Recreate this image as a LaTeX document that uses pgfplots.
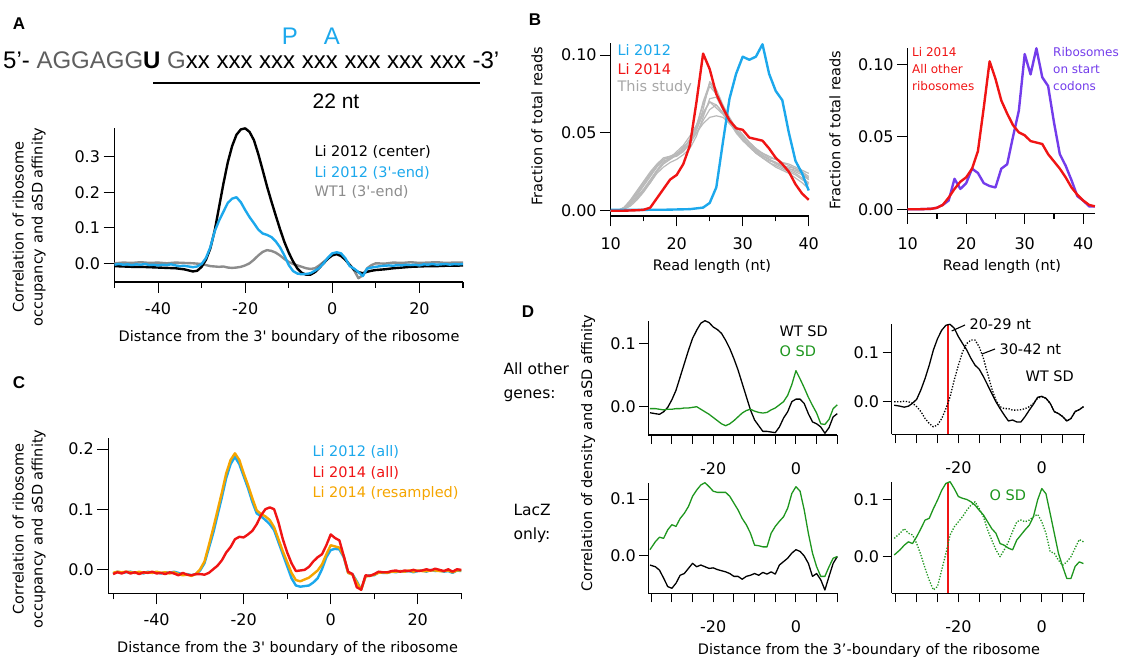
\documentclass[border=0pt]{standalone}
\usepackage{fontspec}
\setmainfont{DejaVu Sans}
\newfontfamily\dv{DejaVu Sans}
\newfontfamily\hel{Liberation Sans}
\usepackage{pgfplots}
\pgfplotsset{compat=1.18}

\definecolor{cblue}{RGB}{28,168,236}
\definecolor{cred}{RGB}{240,20,20}
\definecolor{corange}{RGB}{245,165,0}
\definecolor{cgray}{RGB}{140,140,140}
\definecolor{lgray}{RGB}{185,185,185}
\definecolor{cpurple}{RGB}{115,60,235}
\definecolor{cgreen}{RGB}{30,150,30}
\definecolor{seqgray}{RGB}{95,95,95}

\newcommand\tf{\dv\fontsize{14.5}{19}\selectfont}

\pgfplotsset{
  pan/.style={
    scale only axis, anchor=south west, clip=false,
    axis x line*=bottom, axis y line*=left,
    axis line style={line width=1.1pt},
    tick align=outside,
    every tick/.style={black, line width=1.1pt},
    major tick length=11pt, minor tick length=6pt,
    tick label style={font=\dv\fontsize{16}{16}\selectfont},
    xticklabel style={yshift=-6pt},
    every axis plot/.append style={line join=round},
  },
  dpan/.style={pan, major tick length=9pt, minor tick length=9pt,
    xticklabel style={yshift=-9pt},
    xmin=-35.7, xmax=10, width=189pt,
    xtick={-20,0}, xticklabels={-20,0},
    minor xtick={-35,-30,-25,-15,-10,-5,5,10},
    ytick={0,0.1}, yticklabels={0.0,0.1},
    every axis plot/.append style={line width=1.3pt}},
}

\begin{document}
\begin{tikzpicture}
\useasboundingbox (0,0) rectangle (1122pt,659pt);

% ---------------- panel A header
\node[font=\hel\bfseries\fontsize{17}{17}\selectfont] at (19pt,659pt-24pt) {A};
\node[anchor=base west, inner sep=0, font=\hel\fontsize{24}{24}\selectfont] at (3pt,659pt-69pt)
  {5’- \textcolor{seqgray}{AGGAGG}\textbf{U} \textcolor{seqgray}{G}xx xxx xxx xxx xxx xxx xxx -3’};
\node[anchor=base, inner sep=0, text=cblue, font=\hel\fontsize{24}{24}\selectfont] at (290pt,659pt-45pt) {P};
\node[anchor=base, inner sep=0, text=cblue, font=\hel\fontsize{24}{24}\selectfont] at (332pt,659pt-45pt) {A};
\draw[line width=1.5pt] (153pt,659pt-83pt) -- (480pt,659pt-83pt);
\node[anchor=base, inner sep=0, font=\hel\fontsize{21}{21}\selectfont] at (336pt,659pt-109pt) {22 nt};

% ---------------- panel A plot
\begin{axis}[pan, at={(114.5pt,659pt-282pt)}, width=348.5pt, height=154pt,
  xmin=-50, xmax=30, ymin=-0.0527, ymax=0.381,
  xtick={-40,-20,0,20}, xticklabels={-40,-20,0,20},
  minor xtick={-50,-30,-10,10,30},
  ytick={0,0.1,0.2,0.3}, yticklabels={0.0,0.1,0.2,0.3}]
\addplot[cgray, line width=2.4pt] coordinates {(-50,0.000) (-48,0.002) (-46,0.001) (-44,0.003) (-42,0.001) (-40,0.002) (-38,0.000) (-36,0.002) (-34,0.001) (-32,0.000) (-30,-0.002) (-29,-0.005) (-28,-0.008) (-27,-0.009) (-26,-0.010) (-25,-0.009) (-24,-0.012) (-23,-0.013) (-22,-0.012) (-21,-0.010) (-20,-0.006) (-19,0.000) (-18,0.010) (-17,0.022) (-16,0.032) (-15,0.037) (-14,0.035) (-13,0.030) (-12,0.022) (-11,0.012) (-10,0.004) (-9,-0.002) (-8,-0.006) (-7,-0.010) (-6,-0.014) (-5,-0.016) (-4,-0.014) (-3,-0.006) (-2,0.004) (-1,0.014) (0,0.022) (1,0.025) (2,0.020) (3,0.010) (4,-0.004) (5,-0.020) (6,-0.042) (7,-0.034) (8,-0.014) (9,-0.005) (10,0.000) (12,-0.001) (14,0.002) (16,0.001) (18,0.003) (20,0.001) (22,0.002) (24,0.003) (26,0.001) (28,0.002) (30,0.002)};
\addplot[black, line width=2.4pt] coordinates {(-50,-0.008) (-48,-0.009) (-46,-0.010) (-44,-0.010) (-42,-0.011) (-40,-0.012) (-38,-0.013) (-36,-0.014) (-34,-0.017) (-33,-0.020) (-32,-0.023) (-31,-0.021) (-30,-0.010) (-29,0.010) (-28,0.042) (-27,0.092) (-26,0.158) (-25,0.224) (-24,0.284) (-23,0.330) (-22,0.362) (-21,0.377) (-20,0.380) (-19,0.370) (-18,0.347) (-17,0.308) (-16,0.263) (-15,0.217) (-14,0.175) (-13,0.135) (-12,0.096) (-11,0.060) (-10,0.030) (-9,0.005) (-8,-0.015) (-7,-0.027) (-6,-0.032) (-5,-0.032) (-4,-0.025) (-3,-0.013) (-2,0.000) (-1,0.013) (0,0.023) (1,0.026) (2,0.021) (3,0.010) (4,-0.005) (5,-0.018) (6,-0.025) (7,-0.028) (8,-0.024) (9,-0.021) (10,-0.019) (12,-0.017) (14,-0.014) (16,-0.012) (18,-0.010) (20,-0.009) (22,-0.008) (24,-0.008) (26,-0.007) (28,-0.007) (30,-0.006)};
\addplot[cblue, line width=2.4pt] coordinates {(-50,-0.004) (-49,-0.002) (-48,-0.004) (-47,-0.003) (-46,-0.005) (-45,-0.003) (-44,-0.004) (-43,-0.002) (-42,-0.005) (-41,-0.004) (-40,-0.006) (-39,-0.004) (-38,-0.005) (-37,-0.003) (-36,-0.006) (-35,-0.008) (-34,-0.007) (-33,-0.009) (-32,-0.011) (-31,-0.009) (-30,-0.002) (-29,0.015) (-28,0.045) (-27,0.090) (-26,0.120) (-25,0.145) (-24,0.170) (-23,0.182) (-22,0.186) (-21,0.172) (-20,0.150) (-19,0.130) (-18,0.113) (-17,0.095) (-16,0.084) (-15,0.080) (-14,0.074) (-13,0.062) (-12,0.045) (-11,0.022) (-10,-0.005) (-9,-0.022) (-8,-0.029) (-7,-0.031) (-6,-0.030) (-5,-0.028) (-4,-0.021) (-3,-0.013) (-2,0.000) (-1,0.016) (0,0.028) (1,0.031) (2,0.028) (3,0.014) (4,-0.008) (5,-0.015) (6,-0.025) (7,-0.036) (8,-0.015) (9,-0.012) (10,-0.010) (11,-0.008) (12,-0.007) (13,-0.006) (14,-0.007) (15,-0.005) (16,-0.006) (17,-0.004) (18,-0.005) (19,-0.004) (20,-0.006) (21,-0.003) (22,-0.004) (23,-0.002) (24,-0.004) (25,-0.003) (26,-0.002) (27,-0.004) (28,-0.002) (29,-0.003) (30,-0.002)};
\end{axis}
\node[rotate=90, align=center, font=\tf] at (29pt,659pt-227pt) {Correlation of ribosome\\occupancy and aSD affinity};
\node[font=\tf] at (289pt,659pt-338pt) {Distance from the 3\dv' boundary of the ribosome};
\node[anchor=west, font=\tf] at (311pt,659pt-152pt) {Li 2012 (center)};
\node[anchor=west, font=\tf, text=cblue] at (311pt,659pt-172.7pt) {Li 2012 (3\dv'-end)};
\node[anchor=west, font=\tf, text=cgray] at (311pt,659pt-192.3pt) {WT1 (3\dv'-end)};

% ---------------- panel B
\node[font=\hel\bfseries\fontsize{17}{17}\selectfont] at (535pt,659pt-20pt) {B};
\begin{axis}[pan, at={(610.7pt,659pt-216pt)}, width=198pt, height=172.7pt,
  xmin=10, xmax=40, ymin=-0.0034, ymax=0.1076,
  major tick length=10.5pt, minor tick length=5.5pt,
  xticklabel style={yshift=-2pt},
  xtick={10,20,30,40}, xticklabels={10,20,30,40}, minor xtick={15,25,35},
  ytick={0,0.05,0.1}, yticklabels={0.00,0.05,0.10}]
\addplot[lgray, line width=1.2pt] coordinates {(10,0) (11,0) (12,0.001) (13,0.005) (14,0.010) (15,0.016) (16,0.022) (17,0.028) (18,0.032) (19,0.033) (20,0.036) (21,0.040) (22,0.046) (23,0.055) (24,0.068) (25,0.080) (26,0.075) (27,0.066) (28,0.058) (29,0.052) (30,0.047) (31,0.043) (32,0.039) (33,0.035) (34,0.033) (35,0.030) (36,0.028) (37,0.027) (38,0.025) (39,0.023) (40,0.020)};
\addplot[lgray, line width=1.2pt] coordinates {(10,0) (11,0) (12,0.002) (13,0.007) (14,0.013) (15,0.019) (16,0.025) (17,0.030) (18,0.034) (19,0.035) (20,0.036) (21,0.038) (22,0.043) (23,0.052) (24,0.065) (25,0.083) (26,0.078) (27,0.068) (28,0.060) (29,0.053) (30,0.046) (31,0.041) (32,0.037) (33,0.034) (34,0.031) (35,0.029) (36,0.027) (37,0.025) (38,0.023) (39,0.020) (40,0.017)};
\addplot[lgray, line width=1.2pt] coordinates {(10,0) (11,0) (12,0.001) (13,0.004) (14,0.008) (15,0.013) (16,0.018) (17,0.024) (18,0.028) (19,0.031) (20,0.033) (21,0.036) (22,0.040) (23,0.048) (24,0.060) (25,0.072) (26,0.073) (27,0.065) (28,0.057) (29,0.050) (30,0.045) (31,0.041) (32,0.038) (33,0.034) (34,0.032) (35,0.031) (36,0.029) (37,0.028) (38,0.027) (39,0.025) (40,0.022)};
\addplot[lgray, line width=1.2pt] coordinates {(10,0) (11,0) (12,0.001) (13,0.003) (14,0.007) (15,0.012) (16,0.018) (17,0.025) (18,0.030) (19,0.033) (20,0.036) (21,0.039) (22,0.043) (23,0.050) (24,0.058) (25,0.065) (26,0.068) (27,0.063) (28,0.058) (29,0.054) (30,0.049) (31,0.044) (32,0.040) (33,0.036) (34,0.033) (35,0.031) (36,0.028) (37,0.026) (38,0.024) (39,0.021) (40,0.018)};
\addplot[lgray, line width=1.2pt] coordinates {(10,0) (11,0) (12,0.002) (13,0.006) (14,0.011) (15,0.017) (16,0.023) (17,0.029) (18,0.033) (19,0.035) (20,0.037) (21,0.040) (22,0.045) (23,0.052) (24,0.062) (25,0.070) (26,0.066) (27,0.062) (28,0.056) (29,0.051) (30,0.046) (31,0.042) (32,0.038) (33,0.035) (34,0.033) (35,0.031) (36,0.029) (37,0.027) (38,0.026) (39,0.024) (40,0.021)};
\addplot[lgray, line width=1.2pt] coordinates {(10,0) (11,0) (12,0.001) (13,0.005) (14,0.009) (15,0.014) (16,0.020) (17,0.026) (18,0.031) (19,0.034) (20,0.038) (21,0.042) (22,0.048) (23,0.055) (24,0.063) (25,0.070) (26,0.068) (27,0.063) (28,0.057) (29,0.051) (30,0.046) (31,0.042) (32,0.039) (33,0.037) (34,0.034) (35,0.033) (36,0.031) (37,0.029) (38,0.027) (39,0.024) (40,0.020)};
\addplot[lgray, line width=1.2pt] coordinates {(10,0) (11,0) (12,0.001) (13,0.004) (14,0.008) (15,0.013) (16,0.019) (17,0.026) (18,0.031) (19,0.034) (20,0.036) (21,0.041) (22,0.045) (23,0.050) (24,0.056) (25,0.060) (26,0.061) (27,0.060) (28,0.056) (29,0.052) (30,0.048) (31,0.044) (32,0.040) (33,0.037) (34,0.035) (35,0.033) (36,0.031) (37,0.030) (38,0.028) (39,0.026) (40,0.024)};
\addplot[lgray, line width=1.2pt] coordinates {(10,0) (11,0) (12,0.002) (13,0.006) (14,0.012) (15,0.018) (16,0.024) (17,0.029) (18,0.033) (19,0.034) (20,0.035) (21,0.038) (22,0.044) (23,0.054) (24,0.070) (25,0.082) (26,0.076) (27,0.067) (28,0.059) (29,0.052) (30,0.046) (31,0.041) (32,0.037) (33,0.034) (34,0.031) (35,0.028) (36,0.026) (37,0.024) (38,0.021) (39,0.018) (40,0.014)};
\addplot[cblue, line width=2.4pt] coordinates {(10,0.0005) (12,0.0005) (14,0.0005) (16,0.0006) (18,0.0006) (20,0.0008) (22,0.001) (23,0.0015) (24,0.002) (25,0.005) (26,0.015) (27,0.044) (28,0.072) (29,0.088) (30,0.099) (31,0.097) (32,0.099) (33,0.107) (34,0.088) (35,0.077) (36,0.071) (37,0.050) (38,0.032) (39,0.024) (40,0.013)};
\addplot[cred, line width=2.4pt] coordinates {(10,0) (12,0) (14,0.0003) (15,0.0006) (16,0.002) (17,0.008) (18,0.014) (19,0.020) (20,0.023) (21,0.030) (22,0.042) (23,0.070) (24,0.101) (25,0.091) (26,0.075) (27,0.066) (28,0.058) (29,0.053) (30,0.052) (31,0.047) (32,0.046) (33,0.045) (34,0.040) (35,0.034) (36,0.030) (37,0.025) (38,0.017) (39,0.011) (40,0.007)};
\end{axis}
\node[rotate=90, font=\tf] at (537pt,659pt-126pt) {Fraction of total reads};
\node[font=\tf] at (712pt,659pt-267pt) {Read length (nt)};
\node[anchor=west, font=\tf, text=cblue] at (614pt,659pt-50pt) {Li 2012};
\node[anchor=west, font=\tf, text=cred] at (614pt,659pt-69pt) {Li 2014};
\node[anchor=west, font=\tf, text=lgray!90!black] at (614pt,659pt-88pt) {This study};

\begin{axis}[pan, at={(907.7pt,659pt-213.3pt)}, width=187.2pt, height=165pt,
  xmin=10, xmax=42, ymin=-0.0028, ymax=0.111,
  major tick length=10.5pt, minor tick length=5.5pt,
  xticklabel style={yshift=-4pt},
  xtick={10,20,30,40}, xticklabels={10,20,30,40}, minor xtick={15,25,35},
  ytick={0,0.05,0.1}, yticklabels={0.00,0.05,0.10}]
\addplot[cpurple, line width=2.4pt] coordinates {(10,0) (12,0) (14,0.0003) (15,0.001) (16,0.003) (17,0.006) (18,0.021) (19,0.014) (20,0.018) (21,0.028) (22,0.025) (23,0.018) (24,0.016) (25,0.015) (26,0.028) (27,0.031) (28,0.050) (29,0.068) (30,0.107) (31,0.093) (32,0.111) (33,0.091) (34,0.085) (35,0.060) (36,0.038) (37,0.030) (38,0.020) (39,0.009) (40,0.006) (41,0.002) (42,0.002)};
\addplot[cred, line width=2.4pt] coordinates {(10,0) (12,0) (14,0.0003) (15,0.001) (16,0.003) (17,0.008) (18,0.014) (19,0.019) (20,0.022) (21,0.028) (22,0.040) (23,0.070) (24,0.102) (25,0.090) (26,0.075) (27,0.066) (28,0.058) (29,0.053) (30,0.051) (31,0.047) (32,0.046) (33,0.045) (34,0.038) (35,0.033) (36,0.028) (37,0.022) (38,0.015) (39,0.010) (40,0.006) (41,0.003) (42,0.002)};
\end{axis}
\node[rotate=90, font=\tf] at (835pt,659pt-130pt) {Fraction of total reads};
\node[font=\tf] at (1002pt,659pt-267pt) {Read length (nt)};
\node[anchor=west, align=left, inner sep=0, font=\dv\fontsize{12}{17}\selectfont, text=cred] at (912pt,659pt-69pt) {Li 2014\\All other\\ribosomes};
\node[anchor=west, align=left, inner sep=0, font=\dv\fontsize{12}{17}\selectfont, text=cpurple] at (1053pt,659pt-69pt) {Ribosomes\\on start\\codons};

% ---------------- panel C
\node[font=\hel\bfseries\fontsize{17}{17}\selectfont] at (19pt,659pt-383pt) {C};
\begin{axis}[pan, at={(108.3pt,659pt-593.3pt)}, width=353.4pt, height=155pt,
  xmin=-51.1, xmax=30.1, ymin=-0.04, ymax=0.218,
  xtick={-40,-20,0,20}, xticklabels={-40,-20,0,20},
  minor xtick={-50,-30,-10,10,30},
  ytick={0,0.1,0.2}, yticklabels={0.0,0.1,0.2}]
\addplot[cblue, line width=2.4pt] coordinates {(-50,-0.007) (-49,-0.004) (-48,-0.006) (-47,-0.005) (-46,-0.004) (-45,-0.006) (-44,-0.005) (-43,-0.007) (-42,-0.004) (-41,-0.006) (-40,-0.005) (-39,-0.007) (-38,-0.005) (-37,-0.006) (-36,-0.004) (-35,-0.006) (-34,-0.009) (-33,-0.008) (-32,-0.010) (-31,-0.008) (-30,-0.002) (-29,0.010) (-28,0.035) (-27,0.060) (-26,0.090) (-25,0.120) (-24,0.152) (-23,0.175) (-22,0.187) (-21,0.175) (-20,0.155) (-19,0.135) (-18,0.112) (-17,0.093) (-16,0.088) (-15,0.082) (-14,0.075) (-13,0.065) (-12,0.045) (-11,0.025) (-10,0.005) (-9,-0.015) (-8,-0.027) (-7,-0.029) (-6,-0.028) (-5,-0.027) (-4,-0.022) (-3,-0.015) (-2,0.000) (-1,0.020) (0,0.032) (1,0.034) (2,0.033) (3,0.020) (4,-0.006) (5,-0.008) (6,-0.020) (7,-0.034) (8,-0.012) (9,-0.010) (10,-0.010) (11,-0.005) (12,-0.006) (13,-0.006) (14,-0.004) (15,-0.005) (16,-0.003) (17,-0.004) (18,-0.003) (19,-0.005) (20,-0.003) (21,-0.002) (22,-0.004) (23,-0.001) (24,-0.003) (25,-0.002) (26,-0.004) (27,-0.003) (28,-0.006) (29,-0.002) (30,-0.003)};
\addplot[corange, line width=2.4pt] coordinates {(-50,-0.006) (-49,-0.004) (-48,-0.005) (-47,-0.004) (-46,-0.005) (-45,-0.006) (-44,-0.004) (-43,-0.006) (-42,-0.005) (-41,-0.006) (-40,-0.004) (-39,-0.006) (-38,-0.005) (-37,-0.007) (-36,-0.005) (-35,-0.008) (-34,-0.010) (-33,-0.009) (-32,-0.011) (-31,-0.008) (-30,0.000) (-29,0.013) (-28,0.040) (-27,0.068) (-26,0.098) (-25,0.128) (-24,0.160) (-23,0.182) (-22,0.193) (-21,0.182) (-20,0.160) (-19,0.140) (-18,0.118) (-17,0.098) (-16,0.092) (-15,0.088) (-14,0.082) (-13,0.070) (-12,0.050) (-11,0.030) (-10,0.012) (-9,-0.006) (-8,-0.018) (-7,-0.020) (-6,-0.017) (-5,-0.014) (-4,-0.008) (-3,-0.002) (-2,0.008) (-1,0.025) (0,0.040) (1,0.038) (2,0.036) (3,0.022) (4,-0.006) (5,-0.009) (6,-0.022) (7,-0.034) (8,-0.012) (9,-0.011) (10,-0.009) (11,-0.006) (12,-0.005) (13,-0.006) (14,-0.004) (15,-0.004) (16,-0.003) (17,-0.004) (18,-0.002) (19,-0.004) (20,-0.002) (21,-0.003) (22,-0.003) (23,-0.002) (24,-0.002) (25,-0.003) (26,-0.003) (27,-0.002) (28,-0.005) (29,-0.002) (30,-0.002)};
\addplot[cred, line width=2.4pt] coordinates {(-50,-0.008) (-49,-0.005) (-48,-0.007) (-47,-0.004) (-46,-0.007) (-45,-0.005) (-44,-0.008) (-43,-0.005) (-42,-0.006) (-41,-0.004) (-40,-0.007) (-39,-0.006) (-38,-0.008) (-37,-0.005) (-36,-0.007) (-35,-0.010) (-34,-0.006) (-33,-0.009) (-32,-0.010) (-31,-0.008) (-30,-0.008) (-29,-0.009) (-28,-0.006) (-27,0.000) (-26,0.006) (-25,0.015) (-24,0.028) (-23,0.037) (-22,0.050) (-21,0.054) (-20,0.053) (-19,0.058) (-18,0.064) (-17,0.075) (-16,0.090) (-15,0.100) (-14,0.103) (-13,0.100) (-12,0.078) (-11,0.050) (-10,0.028) (-9,0.010) (-8,-0.003) (-7,-0.002) (-6,-0.001) (-5,0.004) (-4,0.013) (-3,0.020) (-2,0.025) (-1,0.040) (0,0.058) (1,0.052) (2,0.048) (3,0.022) (4,-0.004) (5,-0.008) (6,-0.030) (7,-0.034) (8,-0.010) (9,-0.011) (10,-0.008) (11,-0.004) (12,-0.005) (13,-0.005) (14,-0.003) (15,-0.002) (16,-0.004) (17,-0.002) (18,-0.003) (19,-0.001) (20,-0.003) (21,-0.002) (22,0.000) (23,-0.002) (24,0.001) (25,-0.001) (26,-0.003) (27,0.000) (28,-0.004) (29,0.000) (30,-0.001)};
\end{axis}
\node[rotate=90, align=center, font=\tf] at (29pt,659pt-529pt) {Correlation of ribosome\\occupancy and aSD affinity};
\node[font=\tf] at (287.5pt,659pt-648pt) {Distance from the 3\dv' boundary of the ribosome};
\node[anchor=west, font=\tf, text=cblue] at (309pt,659pt-451.7pt) {Li 2012 (all)};
\node[anchor=west, font=\tf, text=cred] at (309pt,659pt-472.7pt) {Li 2014 (all)};
\node[anchor=west, font=\tf, text=corange] at (309pt,659pt-493.3pt) {Li 2014 (resampled)};

% ---------------- panel D
\node[font=\hel\bfseries\fontsize{17}{17}\selectfont] at (528pt,659pt-312pt) {D};
\node[anchor=west, align=left, font=\dv\fontsize{15.5}{24}\selectfont] at (500pt,659pt-382pt) {All other\\genes:};
\node[anchor=west, align=left, font=\dv\fontsize{15.5}{24}\selectfont] at (510pt,659pt-523pt) {LacZ\\only:};
\node[rotate=90, font=\tf] at (588pt,659pt-453pt) {Correlation of density and aSD affinity};
\node[font=\tf] at (869pt,659pt-650pt) {Distance from the 3’-boundary of the ribosome};

% D top left
\begin{axis}[dpan, at={(648.3pt,659pt-435pt)}, height=114.3pt,
  ymin=-0.0447, ymax=0.136]
\addplot[black] coordinates {(-35.3,-0.0095) (-34,-0.011) (-33,-0.012) (-32,-0.008) (-31,-0.001) (-30,0.011) (-29,0.026) (-28,0.047) (-27,0.068) (-26,0.089) (-25,0.108) (-24,0.121) (-23,0.132) (-22,0.136) (-21,0.133) (-20,0.126) (-19,0.122) (-18,0.116) (-17,0.105) (-16,0.092) (-15,0.076) (-14,0.058) (-13,0.037) (-12,0.016) (-11,-0.005) (-10,-0.021) (-9,-0.030) (-8,-0.039) (-7,-0.039) (-6,-0.040) (-5,-0.041) (-4,-0.032) (-3,-0.018) (-2,-0.008) (-1,0.008) (0,0.012) (1,0.012) (2,0.005) (3,-0.011) (4,-0.024) (5,-0.027) (6,-0.032) (7,-0.042) (8,-0.033) (9,-0.016) (10,-0.011)};
\addplot[cgreen] coordinates {(-35.3,-0.003) (-34,-0.003) (-33,-0.004) (-32,-0.005) (-31,-0.004) (-30,-0.004) (-29,-0.003) (-28,-0.003) (-27,-0.002) (-26,-0.002) (-25,-0.001) (-24,0.000) (-23,-0.004) (-22,-0.008) (-21,-0.012) (-20,-0.017) (-19,-0.022) (-18,-0.027) (-17,-0.030) (-16,-0.027) (-15,-0.022) (-14,-0.016) (-13,-0.010) (-12,-0.006) (-11,-0.004) (-10,-0.007) (-9,-0.009) (-8,-0.010) (-7,-0.009) (-6,-0.005) (-5,-0.002) (-4,0.003) (-3,0.008) (-2,0.018) (-1,0.035) (0,0.057) (1,0.044) (2,0.030) (3,0.015) (4,0.002) (5,-0.010) (6,-0.027) (7,-0.028) (8,-0.020) (9,-0.003) (10,0.003)};
\end{axis}
\node[anchor=west, font=\tf] at (776pt,659pt-331pt) {WT SD};
\node[anchor=west, font=\tf, text=cgreen] at (776pt,659pt-351pt) {O SD};

% D top right
\begin{axis}[dpan, at={(891.7pt,659pt-434.3pt)}, height=110.3pt, width=193pt,
  xmin=-36, xmax=10.3, ymin=-0.066, ymax=0.1576]
\addplot[cred, line width=1.3pt] coordinates {(-22.5,-0.066) (-22.5,0.157)};
\addplot[black, dash pattern=on 1.3pt off 1.6pt] coordinates {(-35.4,0.000) (-34,0.000) (-33,0.001) (-32,0.000) (-31,-0.003) (-30,-0.010) (-29,-0.020) (-28,-0.034) (-27,-0.044) (-26,-0.051) (-25,-0.047) (-24,-0.034) (-23,-0.014) (-22,0.010) (-21,0.044) (-20,0.074) (-19,0.101) (-18,0.118) (-17,0.125) (-16,0.125) (-15,0.111) (-14,0.088) (-13,0.057) (-12,0.027) (-11,0.003) (-10,-0.010) (-9,-0.014) (-8,-0.014) (-7,-0.017) (-6,-0.017) (-5,-0.016) (-4,-0.014) (-3,-0.010) (-2,-0.003) (-1,0.007) (0,0.010) (1,0.007) (2,-0.003) (3,-0.020) (4,-0.024) (5,-0.030) (6,-0.039) (7,-0.034) (8,-0.020) (9,-0.016) (10,-0.010)};
\addplot[black] coordinates {(-35.4,-0.007) (-34,-0.009) (-33,-0.011) (-32,-0.009) (-31,-0.003) (-30,0.005) (-29,0.024) (-28,0.047) (-27,0.074) (-26,0.105) (-25,0.128) (-24,0.145) (-23,0.155) (-22,0.157) (-21,0.149) (-20,0.132) (-19,0.118) (-18,0.105) (-17,0.088) (-16,0.074) (-15,0.066) (-14,0.051) (-13,0.034) (-12,0.017) (-11,0.000) (-10,-0.014) (-9,-0.027) (-8,-0.039) (-7,-0.037) (-6,-0.041) (-5,-0.041) (-4,-0.030) (-3,-0.017) (-2,-0.005) (-1,0.009) (0,0.011) (1,0.007) (2,-0.003) (3,-0.020) (4,-0.024) (5,-0.030) (6,-0.039) (7,-0.034) (8,-0.020) (9,-0.016) (10,-0.010)};
\end{axis}
\draw[line width=1.1pt] (951.7pt,659pt-331pt) -- (965pt,659pt-325pt);
\draw[line width=1.1pt] (982pt,659pt-354pt) -- (995pt,659pt-349pt);
\node[anchor=west, font=\tf] at (966pt,659pt-324pt) {20-29 nt};
\node[anchor=west, font=\tf] at (996pt,659pt-349.3pt) {30-42 nt};
\node[anchor=west, font=\tf] at (1022pt,659pt-376.7pt) {WT SD};

% D bottom left
\begin{axis}[dpan, at={(648.3pt,659pt-593.3pt)}, height=110.6pt,
  ymin=-0.0658, ymax=0.129]
\addplot[black] coordinates {(-35.3,-0.016) (-34,-0.019) (-33,-0.025) (-32,-0.039) (-31,-0.054) (-30,-0.057) (-29,-0.048) (-28,-0.034) (-27,-0.031) (-26,-0.022) (-25,-0.013) (-24,-0.019) (-23,-0.016) (-22,-0.019) (-21,-0.022) (-20,-0.021) (-19,-0.024) (-18,-0.026) (-17,-0.028) (-16,-0.031) (-15,-0.036) (-14,-0.036) (-13,-0.041) (-12,-0.036) (-11,-0.034) (-10,-0.031) (-9,-0.034) (-8,-0.029) (-7,-0.032) (-6,-0.028) (-5,-0.032) (-4,-0.016) (-3,-0.010) (-2,-0.004) (-1,0.005) (0,0.011) (1,0.008) (2,0.000) (3,-0.013) (4,-0.036) (5,-0.031) (6,-0.042) (7,-0.060) (8,-0.036) (9,-0.013) (10,-0.001)};
\addplot[cgreen] coordinates {(-35.3,0.011) (-34,0.025) (-33,0.033) (-32,0.031) (-31,0.046) (-30,0.055) (-29,0.052) (-28,0.066) (-27,0.075) (-26,0.087) (-25,0.105) (-24,0.116) (-23,0.125) (-22,0.129) (-21,0.122) (-20,0.114) (-19,0.112) (-18,0.112) (-17,0.112) (-16,0.105) (-15,0.093) (-14,0.081) (-13,0.066) (-12,0.055) (-11,0.040) (-10,0.019) (-9,0.018) (-8,0.016) (-7,0.016) (-6,0.040) (-5,0.052) (-4,0.061) (-3,0.069) (-2,0.084) (-1,0.110) (0,0.122) (1,0.114) (2,0.081) (3,0.040) (4,0.005) (5,-0.019) (6,-0.036) (7,-0.036) (8,-0.019) (9,-0.004) (10,-0.001)};
\end{axis}

% D bottom right
\begin{axis}[dpan, at={(891.7pt,659pt-593.3pt)}, height=111.6pt, width=193pt,
  xmin=-36, xmax=10.3, ymin=-0.0639, ymax=0.131]
\addplot[cred, line width=1.3pt] coordinates {(-22.5,-0.0639) (-22.5,0.131)};
\addplot[cgreen, dash pattern=on 1.3pt off 1.6pt] coordinates {(-35.4,0.032) (-34,0.041) (-33,0.049) (-32,0.041) (-31,0.038) (-30,0.023) (-29,0.003) (-28,-0.020) (-27,-0.041) (-26,-0.058) (-25,-0.052) (-24,-0.023) (-23,0.006) (-22,0.038) (-21,0.052) (-20,0.061) (-19,0.070) (-18,0.081) (-17,0.090) (-16,0.096) (-15,0.084) (-14,0.070) (-13,0.047) (-12,0.029) (-11,0.012) (-10,0.000) (-9,0.012) (-8,0.026) (-7,0.044) (-6,0.061) (-5,0.064) (-4,0.061) (-3,0.064) (-2,0.070) (-1,0.074) (0,0.061) (1,0.041) (2,0.009) (3,0.006) (4,-0.006) (5,-0.015) (6,-0.009) (7,0.000) (8,0.015) (9,0.030) (10,0.026)};
\addplot[cgreen] coordinates {(-35.4,0.003) (-34,0.012) (-33,0.020) (-32,0.026) (-31,0.023) (-30,0.035) (-29,0.049) (-28,0.064) (-27,0.067) (-26,0.084) (-25,0.099) (-24,0.116) (-23,0.128) (-22,0.131) (-21,0.119) (-20,0.105) (-19,0.102) (-18,0.100) (-17,0.096) (-16,0.090) (-15,0.081) (-14,0.073) (-13,0.061) (-12,0.049) (-11,0.041) (-10,0.023) (-9,0.020) (-8,0.015) (-7,0.012) (-6,0.029) (-5,0.038) (-4,0.047) (-3,0.055) (-2,0.070) (-1,0.099) (0,0.119) (1,0.110) (2,0.076) (3,0.041) (4,0.006) (5,-0.017) (6,-0.038) (7,-0.038) (8,-0.017) (9,-0.009) (10,-0.012)};
\end{axis}
\node[anchor=west, font=\tf, text=cgreen] at (986pt,659pt-495pt) {O SD};

\end{tikzpicture}
\end{document}
